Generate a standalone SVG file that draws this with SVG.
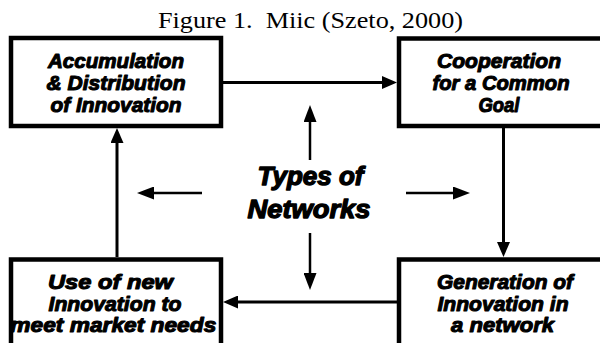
<svg xmlns="http://www.w3.org/2000/svg" width="600" height="343" viewBox="0 0 600 343">
  <style>
    .box { fill: #ffffff; stroke: #000000; stroke-width: 4.5; }
    .lbl { font-family: "Liberation Sans", Arial, sans-serif; font-weight: bold; font-style: italic; font-size: 21px; text-anchor: middle; fill: #000000; stroke: #000000; stroke-width: 1.1; stroke-linejoin: round; }
    .hub { font-size: 25px; stroke-width: 1.3; }
    .title { font-family: "Liberation Serif", "Times New Roman", serif; font-size: 24px; fill: #000000; white-space: pre; }
    .link { stroke: #000000; stroke-width: 3; fill: none; marker-end: url(#head); }
    .spoke { stroke: #000000; stroke-width: 2.5; fill: none; marker-end: url(#headc); }
  </style>
  <defs>
    <!-- heads overhang the line end by 10px so the tip lands on the target -->
    <marker id="head" markerUnits="userSpaceOnUse" markerWidth="15" markerHeight="13" refX="5" refY="6.5" orient="auto">
      <path d="M0,0 L15,6.5 L0,13 Z" fill="#000000"/>
    </marker>
    <marker id="headc" markerUnits="userSpaceOnUse" markerWidth="17" markerHeight="13" refX="7" refY="6.5" orient="auto">
      <path d="M0,0 L17,6.5 L0,13 Z" fill="#000000"/>
    </marker>
  </defs>

  <rect width="600" height="343" fill="#ffffff"/>

  <text class="title" x="158" y="28" textLength="305" lengthAdjust="spacingAndGlyphs">Figure 1.  Miic (Szeto, 2000)</text>

  <g id="connectors">
    <!-- cycle between the four stages -->
    <line class="link" x1="223" y1="82.5" x2="387" y2="82.5"/>
    <line class="link" x1="503.5" y1="128" x2="503.5" y2="247"/>
    <line class="link" x1="397" y1="302" x2="233" y2="302"/>
    <line class="link" x1="117" y1="257" x2="117" y2="138"/>
    <!-- spokes out of the centre label -->
    <line class="spoke" x1="310" y1="160" x2="310" y2="115"/>
    <line class="spoke" x1="310" y1="233" x2="310" y2="280"/>
    <line class="spoke" x1="202" y1="193" x2="147" y2="193"/>
    <line class="spoke" x1="406" y1="193" x2="460" y2="193"/>
  </g>

  <g id="accumulation">
    <rect class="box" x="11" y="38" width="210" height="88"/>
    <text class="lbl" x="116" y="68" textLength="136" lengthAdjust="spacingAndGlyphs">Accumulation</text>
    <text class="lbl" x="116" y="90" textLength="139" lengthAdjust="spacingAndGlyphs">&amp; Distribution</text>
    <text class="lbl" x="116" y="112" textLength="131" lengthAdjust="spacingAndGlyphs">of Innovation</text>
  </g>

  <g id="cooperation">
    <rect class="box" x="399" y="38.5" width="210" height="87.5"/>
    <text class="lbl" x="499" y="68" textLength="124" lengthAdjust="spacingAndGlyphs">Cooperation</text>
    <text class="lbl" x="501" y="90" textLength="137" lengthAdjust="spacingAndGlyphs">for a Common</text>
    <text class="lbl" x="499" y="112" textLength="41" lengthAdjust="spacingAndGlyphs">Goal</text>
  </g>

  <g id="generation">
    <rect class="box" x="399" y="259.5" width="210" height="100"/>
    <text class="lbl" x="505" y="289" textLength="136" lengthAdjust="spacingAndGlyphs">Generation of</text>
    <text class="lbl" x="503" y="310.5" textLength="131" lengthAdjust="spacingAndGlyphs">Innovation in</text>
    <text class="lbl" x="502.5" y="332" textLength="103" lengthAdjust="spacingAndGlyphs">a network</text>
  </g>

  <g id="use">
    <rect class="box" x="11" y="259.5" width="210" height="100"/>
    <text class="lbl" x="110.5" y="289" textLength="125" lengthAdjust="spacingAndGlyphs">Use of new</text>
    <text class="lbl" x="115" y="310.5" textLength="133" lengthAdjust="spacingAndGlyphs">Innovation to</text>
    <text class="lbl" x="113.3" y="332" textLength="206" lengthAdjust="spacingAndGlyphs">meet market needs</text>
  </g>

  <g id="types">
    <text class="lbl hub" x="310.5" y="185" textLength="106" lengthAdjust="spacingAndGlyphs">Types of</text>
    <text class="lbl hub" x="309" y="218" textLength="123" lengthAdjust="spacingAndGlyphs">Networks</text>
  </g>
</svg>
